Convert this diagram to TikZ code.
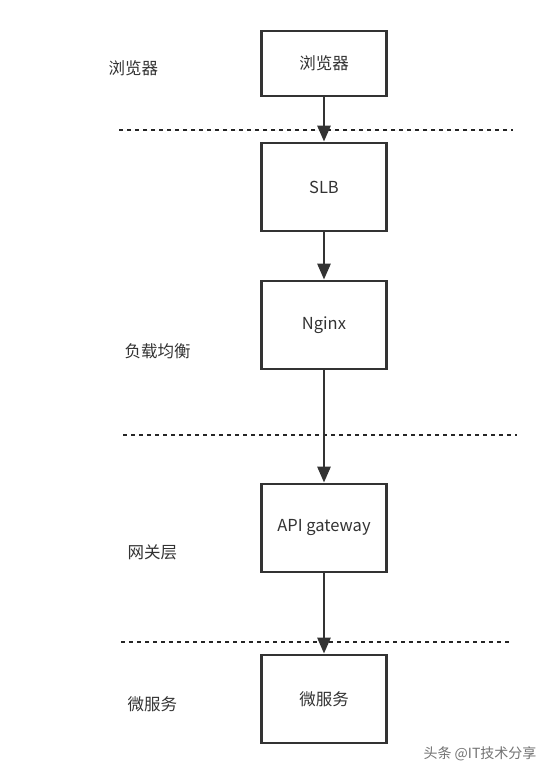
\documentclass[tikz,border=0pt]{standalone}
\usepackage{fontspec}
\setmainfont{Noto Sans CJK SC}
\usetikzlibrary{arrows.meta,positioning}

\begin{document}
\begin{tikzpicture}[
  x=1pt,
  y=-1pt,
  box/.style={draw=black!80, line width=2.8pt, minimum width=125pt, minimum height=88pt, inner sep=0pt, text=black!80, font=\fontsize{16.5}{18}\selectfont},
  layer/.style={anchor=west, text=black!80, font=\fontsize{16.5}{18}\selectfont},
  sep/.style={draw=black!85, line width=2.8pt, dash pattern=on 4pt off 4pt},
  flow/.style={draw=black!80, line width=2.8pt, -{Triangle[length=16pt,width=13pt]}},
  stamp/.style={text=black!55, font=\fontsize{14}{16}\selectfont}
]
\fill[white] (0,0) rectangle (550,774);
\useasboundingbox (0,0) rectangle (550,774);
\draw[sep] (119,130) -- (513,130);
\draw[sep] (123,435) -- (517,435);
\draw[sep] (121,642) -- (512,642);
\node[box, minimum height=65pt] (browser) at (324,63.5) {浏览器};
\node[box] (slb) at (324,187) {SLB};
\node[box] (nginx) at (324,325) {Nginx};
\node[box] (gateway) at (324,528) {API gateway};
\node[box] (service) at (324,699) {微服务};
\draw[flow] (browser) -- (slb);
\draw[flow] (slb) -- (nginx);
\draw[flow] (nginx) -- (gateway);
\draw[flow] (gateway) -- (service);
\node[layer] (l-browser) at (105,68) {浏览器};
\node[layer] (l-balance) at (121,351) {负载均衡};
\node[layer] (l-gateway) at (124,552) {网关层};
\node[layer] (l-service) at (124,704) {微服务};
\node[stamp, anchor=east] (watermark) at (540,754) {头条 @IT技术分享};
\end{tikzpicture}
\end{document}
